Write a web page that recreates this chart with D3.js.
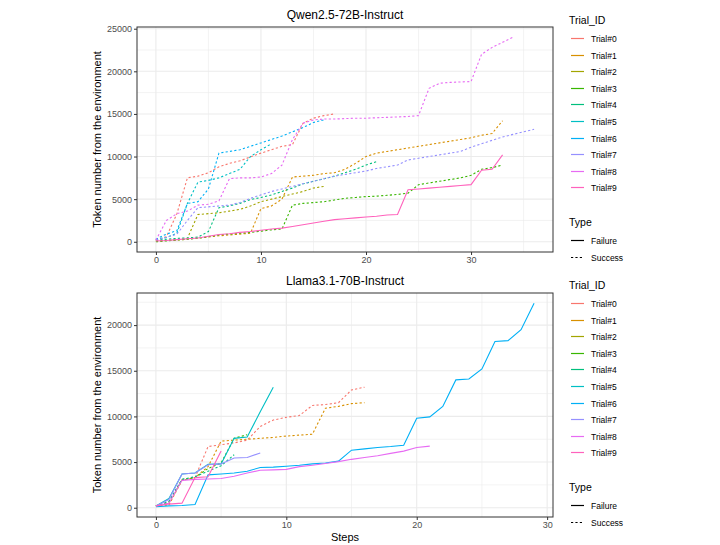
<!DOCTYPE html>
<html>
<head>
<meta charset="utf-8">
<script src="https://cdn.jsdelivr.net/npm/d3@7"></script>
<style>
  html, body { margin: 0; padding: 0; background: #ffffff; }
  svg { display: block; font-family: "Liberation Sans", Arial, Helvetica, sans-serif; }
</style>
</head>
<body>
<svg id="chart" width="720" height="545"></svg>
<script>
// ---------------- DATA ----------------
const trialNames = ["Trial#0","Trial#1","Trial#2","Trial#3","Trial#4","Trial#5","Trial#6","Trial#7","Trial#8","Trial#9"];
const typeNames = ["Failure","Success"];
const panelTitles = ["Qwen2.5-72B-Instruct","Llama3.1-70B-Instruct"];
const xAxisTitle = "Steps";
const yAxisTitle = "Token number from the environment";

// Qwen2.5-72B-Instruct : token counts per step (step = index)
const qwenT0 = [200, 600, 3300, 7500, 7700, 8100, 8800, 9200, 9500, 9950, 10400, 10800, 11200, 11400, 13900, 14500, 14800, 15000];
const qwenT1 = [100, 150, 200, 300, 450, 550, 700, 800, 900, 1000, 3900, 4200, 5000, 7600, 7700, 7800, 8000, 8100, 8500, 9200, 10000, 10400, 10600, 10800, 11000, 11200, 11400, 11600, 11800, 12000, 12200, 12500, 12700, 14200];
const qwenT2 = [100, 150, 250, 400, 3200, 3300, 3400, 3600, 3800, 4200, 4700, 5000, 5300, 5600, 5900, 6300, 6500];
const qwenT3 = [0, 100, 200, 300, 400, 600, 800, 900, 1000, 1100, 1250, 1400, 1500, 4300, 4500, 4600, 4700, 4900, 5100, 5200, 5300, 5350, 5450, 5550, 5700, 6700, 6900, 7100, 7300, 7500, 7800, 8500, 8700, 9000];
const qwenT4 = [200, 300, 400, 450, 550, 1200, 4000, 4200, 4500, 4950, 5200, 5500, 5900, 6300, 6800, 7100, 7400, 7700, 8100, 8500, 9000, 9400];
const qwenT5 = [300, 500, 1000, 4500, 7000, 7200, 7500, 8000, 8500, 10000, 10800, 11500];
const qwenT6 = [300, 900, 1300, 4500, 4700, 6200, 10400, 10600, 10800, 11200, 11600, 12000, 12400, 12900, 13400, 14000, 14300];
const qwenT7 = [200, 500, 900, 2500, 4000, 4100, 4200, 4300, 4600, 5100, 5500, 5900, 6200, 6500, 6800, 7100, 7400, 7700, 7900, 8100, 8300, 8600, 8800, 9000, 9600, 9800, 10000, 10200, 10400, 10600, 11100, 11500, 11900, 12300, 12600, 12900, 13200];
const qwenT8 = [200, 2500, 3300, 3600, 4300, 4400, 4800, 7400, 7500, 7500, 7600, 8000, 9000, 12000, 13900, 14300, 14400, 14400, 14450, 14500, 14500, 14550, 14600, 14650, 14700, 14800, 18000, 18600, 18700, 18750, 18800, 22000, 22800, 23400, 24000];
const qwenT9 = [100, 150, 250, 350, 450, 650, 850, 950, 1100, 1200, 1350, 1500, 1600, 1800, 2000, 2200, 2400, 2600, 2700, 2800, 2900, 3000, 3150, 3200, 6100, 6200, 6300, 6400, 6500, 6600, 6700, 8400, 8500, 10200];
const qwenTypes = ["Success","Success","Success","Success","Success","Success","Success","Success","Success","Failure"];

// Llama3.1-70B-Instruct
const llamaT0 = [200, 500, 3000, 3300, 6700, 6900, 7100, 7400, 8900, 9600, 9900, 10100, 11200, 11300, 11500, 12900, 13200];
const llamaT1 = [200, 300, 3000, 3300, 4500, 7300, 7400, 7500, 7600, 7700, 7850, 7950, 8050, 10900, 11100, 11400, 11500];
const llamaT2 = [];
const llamaT3 = [200, 600, 3100, 3300, 4300, 4900, 7600, 8000];
const llamaT4 = [200, 700, 3100, 3400, 4000, 4600, 5800];
const llamaT5 = [200, 1000, 3700, 3800, 4750, 4800, 7600, 7750, 10500, 13200];
const llamaT6 = [100, 200, 250, 350, 3600, 3700, 3800, 4000, 4400, 4450, 4550, 4650, 4800, 4900, 5100, 6300, 6450, 6600, 6700, 6850, 9800, 9950, 11100, 14000, 14100, 15200, 18200, 18300, 19500, 22400];
const llamaT7 = [200, 900, 3700, 3800, 4700, 4800, 5450, 5500, 6000];
const llamaT8 = [200, 500, 3000, 3100, 3150, 3200, 3450, 3800, 4100, 4150, 4200, 4500, 4650, 4850, 5050, 5300, 5500, 5700, 5950, 6200, 6600, 6750];
const llamaT9 = [200, 400, 500, 3300, 3400, 6200];
const llamaTypes = ["Success","Success","Success","Success","Success","Failure","Failure","Failure","Failure","Failure"];

const qwenXTicks = [0, 10, 20, 30];
const qwenYTicks = [0, 5000, 10000, 15000, 20000, 25000];
const llamaXTicks = [0, 10, 20, 30];
const llamaYTicks = [0, 5000, 10000, 15000, 20000];

// ---------------- STYLE ----------------
const palette = ["#F8766D","#D89000","#A3A500","#39B600","#00BF7D","#00BFC4","#00B0F6","#9590FF","#E76BF3","#FF62BC"];
const dashFor = t => t === "Success" ? "2.2,2.2" : null;

const svg = d3.select("#chart");

function ggExpand(lo, hi) {
  const r = hi - lo;
  return [lo - 0.05 * r, hi + 0.05 * r];
}

function drawPanel(cfg) {
  const { series, types, title, xTicks, yTicks, top, bottom, showXTitle, legendTop } = cfg;
  const left = 137, right = 553;
  const allVals = series.flat();
  const maxX = d3.max(series, s => s.length - 1);
  const x = d3.scaleLinear().domain(ggExpand(0, maxX)).range([left, right]);
  const y = d3.scaleLinear().domain(ggExpand(d3.min(allVals), d3.max(allVals))).range([bottom, top]);

  const g = svg.append("g");
  g.append("rect").attr("x", left).attr("y", top).attr("width", right - left).attr("height", bottom - top).attr("fill", "#fff");

  // minor grid
  const xMinor = xTicks.slice(0, -1).map((t, i) => (t + xTicks[i + 1]) / 2);
  xMinor.push(xTicks[xTicks.length - 1] + (xTicks[1] - xTicks[0]) / 2);
  const yMinor = yTicks.slice(0, -1).map((t, i) => (t + yTicks[i + 1]) / 2);
  yMinor.push(yTicks[yTicks.length - 1] + (yTicks[1] - yTicks[0]) / 2);
  const grid = g.append("g").attr("stroke", "#EBEBEB");
  grid.selectAll(".xm").data(xMinor.filter(v => x(v) < right)).join("line")
    .attr("x1", d => x(d)).attr("x2", d => x(d)).attr("y1", top).attr("y2", bottom).attr("stroke-width", 0.6);
  grid.selectAll(".ym").data(yMinor.filter(v => y(v) > top)).join("line")
    .attr("y1", d => y(d)).attr("y2", d => y(d)).attr("x1", left).attr("x2", right).attr("stroke-width", 0.6);
  grid.selectAll(".xM").data(xTicks).join("line")
    .attr("x1", d => x(d)).attr("x2", d => x(d)).attr("y1", top).attr("y2", bottom).attr("stroke-width", 1.1);
  grid.selectAll(".yM").data(yTicks).join("line")
    .attr("y1", d => y(d)).attr("y2", d => y(d)).attr("x1", left).attr("x2", right).attr("stroke-width", 1.1);

  // lines
  const line = d3.line().x((d, i) => x(i)).y(d => y(d));
  series.forEach((s, i) => {
    if (!s.length) return;
    g.append("path").datum(s).attr("d", line)
      .attr("fill", "none").attr("stroke", palette[i]).attr("stroke-width", 1.1)
      .attr("stroke-dasharray", dashFor(types[i]));
  });

  // border
  g.append("rect").attr("x", left).attr("y", top).attr("width", right - left).attr("height", bottom - top)
    .attr("fill", "none").attr("stroke", "#333333").attr("stroke-width", 1);

  // axes
  const ax = g.append("g").attr("transform", `translate(0,${bottom})`)
    .call(d3.axisBottom(x).tickValues(xTicks).tickSize(3).tickPadding(2).tickFormat(d3.format("d")));
  const ay = g.append("g").attr("transform", `translate(${left},0)`)
    .call(d3.axisLeft(y).tickValues(yTicks).tickSize(3).tickPadding(2).tickFormat(d3.format("d")));
  [ax, ay].forEach(a => {
    a.select(".domain").remove();
    a.selectAll(".tick line").attr("stroke", "#333333");
    a.selectAll(".tick text").attr("fill", "#4D4D4D").style("font-size", "9px")
      .style("font-family", '"Liberation Sans", Arial, sans-serif');
  });

  // titles
  g.append("text").attr("x", (left + right) / 2).attr("y", top - 8).attr("text-anchor", "middle")
    .style("font-size", "12px").attr("fill", "#000").text(title);
  g.append("text").attr("transform", `translate(101,${(top + bottom) / 2}) rotate(-90)`)
    .attr("text-anchor", "middle").style("font-size", "11px").attr("fill", "#000").text(yAxisTitle);
  if (showXTitle) {
    g.append("text").attr("x", (left + right) / 2).attr("y", 541).attr("text-anchor", "middle")
      .style("font-size", "11px").attr("fill", "#000").text(xAxisTitle);
  }

  // legend
  const lg = svg.append("g").attr("transform", `translate(569,${Math.round(legendTop)})`);
  lg.append("text").attr("x", 0).attr("y", 4).style("font-size", "10.5px").attr("fill", "#000").text("Trial_ID");
  const step = 16.6;
  trialNames.forEach((t, i) => {
    const cy = Math.round(18 + i * step) + 0.5;
    lg.append("line").attr("x1", 2).attr("x2", 15).attr("y1", cy).attr("y2", cy)
      .attr("stroke", palette[i]).attr("stroke-width", 1.2);
    lg.append("text").attr("x", 22).attr("y", cy + 3).style("font-size", "8.5px").attr("fill", "#000").text(t);
  });
  lg.append("text").attr("x", 0).attr("y", 205.5).style("font-size", "10.5px").attr("fill", "#000").text("Type");
  typeNames.forEach((t, i) => {
    const cy = Math.round(220 + i * 16.7) + 0.5;
    lg.append("line").attr("x1", 2).attr("x2", 15).attr("y1", cy).attr("y2", cy)
      .attr("stroke", "#000").attr("stroke-width", 1.2).attr("stroke-dasharray", dashFor(t));
    lg.append("text").attr("x", 22).attr("y", cy + 3).style("font-size", "8.5px").attr("fill", "#000").text(t);
  });
}

drawPanel({
  series: [qwenT0, qwenT1, qwenT2, qwenT3, qwenT4, qwenT5, qwenT6, qwenT7, qwenT8, qwenT9],
  types: qwenTypes, title: panelTitles[0], xTicks: qwenXTicks, yTicks: qwenYTicks,
  top: 27, bottom: 252, showXTitle: false, legendTop: 20
});
drawPanel({
  series: [llamaT0, llamaT1, llamaT2, llamaT3, llamaT4, llamaT5, llamaT6, llamaT7, llamaT8, llamaT9],
  types: llamaTypes, title: panelTitles[1], xTicks: llamaXTicks, yTicks: llamaYTicks,
  top: 293, bottom: 517, showXTitle: true, legendTop: 284.5
});
</script>
</body>
</html>
